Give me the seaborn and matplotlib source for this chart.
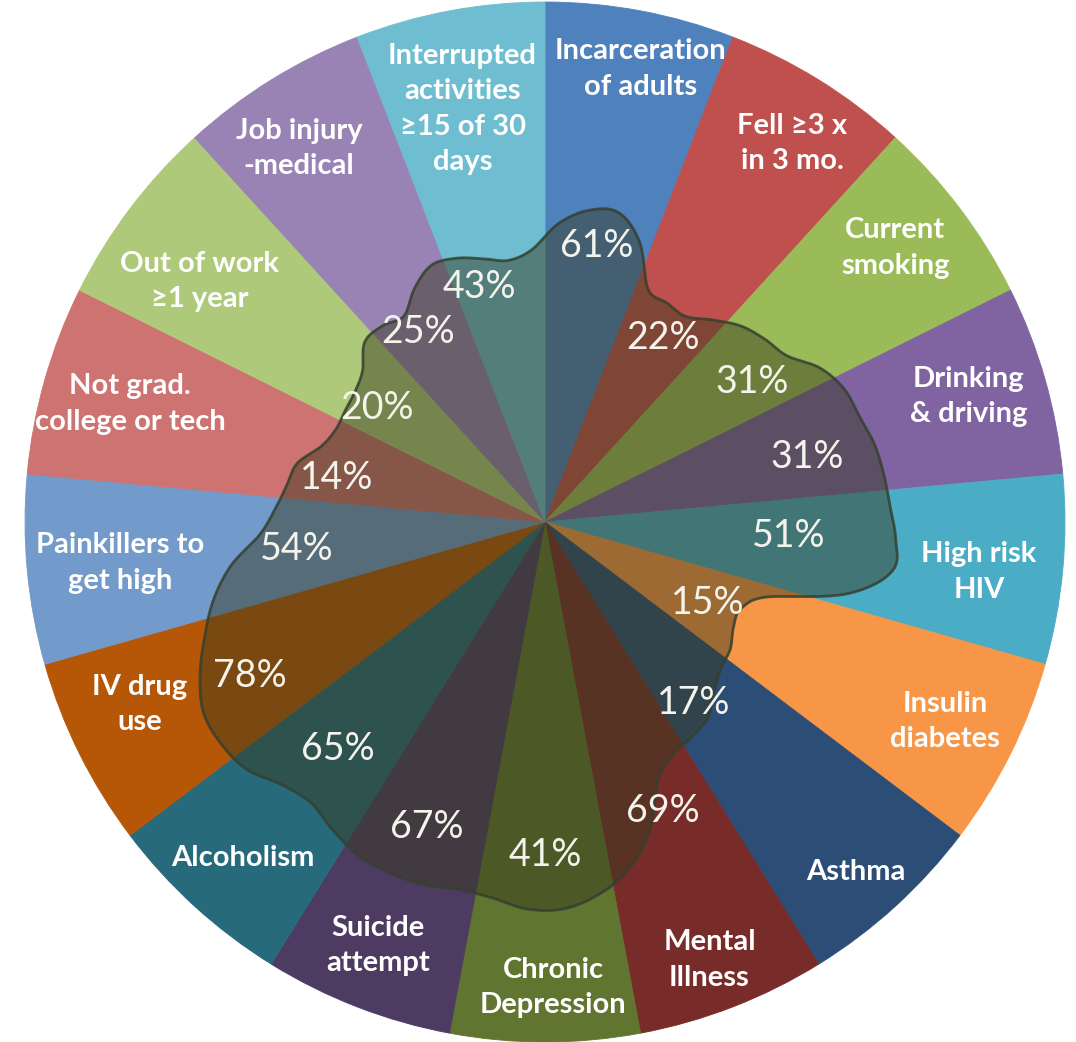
import numpy as np
import matplotlib
matplotlib.use("Agg")
import matplotlib.pyplot as plt
import seaborn as sns

# slices, clockwise from 12 o'clock
categories = ["Incarceration\nof adults", "Fell ≥3 x\nin 3 mo.", "Current\nsmoking",
              "Drinking\n& driving", "High risk\nHIV", "Insulin\ndiabetes", "Asthma",
              "Mental\nIllness", "Chronic\nDepression", "Suicide\nattempt", "Alcoholism",
              "IV drug\nuse", "Painkillers to\nget high", "Not grad.\ncollege or tech",
              "Out of work\n≥1 year", "Job injury\n-medical",
              "Interrupted\nactivities\n≥15 of 30\ndays"]
percent = [61, 22, 31, 31, 51, 15, 17, 69, 41, 67, 65, 78, 54, 14, 20, 25, 43]

# reach of the dark overlay inside each slice (fraction of the pie radius),
# read at 4 evenly spaced points across the slice, clockwise
blob_reach = [
    [0.575, 0.605, 0.612, 0.570],   # Incarceration
    [0.490, 0.482, 0.479, 0.505],   # Fell
    [0.533, 0.550, 0.565, 0.607],   # Smoking
    [0.630, 0.638, 0.651, 0.658],   # Drinking
    [0.664, 0.675, 0.675, 0.600],   # HIV
    [0.453, 0.412, 0.415, 0.432],   # Insulin
    [0.440, 0.460, 0.490, 0.500],   # Asthma
    [0.510, 0.540, 0.630, 0.690],   # Mental illness
    [0.725, 0.745, 0.745, 0.730],   # Chronic depression
    [0.726, 0.735, 0.738, 0.735],   # Suicide
    [0.720, 0.703, 0.715, 0.745],   # Alcoholism
    [0.755, 0.752, 0.725, 0.690],   # IV drug
    [0.655, 0.610, 0.550, 0.520],   # Painkillers
    [0.502, 0.490, 0.455, 0.440],   # Not grad
    [0.440, 0.443, 0.456, 0.490],   # Out of work
    [0.490, 0.480, 0.515, 0.540],   # Job injury
    [0.535, 0.520, 0.508, 0.525],   # Interrupted
]

slice_colors = ["#4F81BD", "#C0504D", "#9BBB59", "#8064A2", "#4BACC6", "#F79646",
                "#2C4D75", "#772C2A", "#5F7530", "#4D3B62", "#276A7C", "#B65708",
                "#729ACA", "#CD7371", "#AFC97A", "#9983B5", "#6FBDD1"]

# layout: where the texts sit (radius as fraction of pie, angle nudge in degrees)
label_r = [0.89, 0.87, 0.855, 0.85, 0.84, 0.86, 0.90, 0.90, 0.895, 0.875, 0.87, 0.855,
           0.82, 0.83, 0.81, 0.86, 0.81]
label_nudge = [1.3, 1.4, -1, -0.6, 1.3, 0, 0.7, 0.6, -1, 0.3, -0.4, 2.2, -0.2, 0, -2.2, -1.6, -0.7]
pct_r = [0.54, 0.42, 0.48, 0.52, 0.47, 0.35, 0.45, 0.60, 0.64, 0.63, 0.59, 0.64,
         0.48, 0.41, 0.39, 0.44, 0.47]
pct_nudge = [0, 1, 3, 2, -2, 0, 3, -1, 0, 0, 0, -1, -1, -4, -3, -2, -5]

sns.set_style("white")
plt.rcParams['font.family'] = ['Lato', 'DejaVu Sans']

fig = plt.figure(figsize=(10.76, 10.42), dpi=100)
ax = fig.add_axes([25 / 1076, 0, 1040 / 1076, 1040 / 1042])

n = len(categories)
pal = sns.color_palette(slice_colors)
wedges, _ = ax.pie(np.ones(n), colors=pal, startangle=90, counterclock=False,
                   radius=1, wedgeprops=dict(linewidth=0.6))
for w in wedges:
    w.set_edgecolor(w.get_facecolor())

# overlay shape: periodic catmull-rom through the reach samples
width = 360 / n
r = np.array(blob_reach).ravel()
m = len(r)
theta = (np.arange(m) + 0.5) * width / 4
steps = 12
rr, tt = [], []
for i in range(m):
    p0, p1, p2, p3 = r[i - 1], r[i], r[(i + 1) % m], r[(i + 2) % m]
    for t in np.linspace(0, 1, steps, endpoint=False):
        v = 0.5 * (2 * p1 + (-p0 + p2) * t + (2 * p0 - 5 * p1 + 4 * p2 - p3) * t ** 2
                   + (-p0 + 3 * p1 - 3 * p2 + p3) * t ** 3)
        rr.append(v)
        tt.append(theta[i] + t * width / 4)
rr = np.array(rr + rr[:1])
tt = np.radians(np.array(tt + tt[:1]))
bx, by = rr * np.sin(tt), rr * np.cos(tt)
ax.fill(bx, by, color="#37391c", alpha=0.47, lw=0, zorder=3)
ax.plot(bx, by, color="#35402f", lw=2, alpha=0.85, zorder=4)

mids = (np.arange(n) + 0.5) * width
for i in range(n):
    a = np.radians(mids[i] + label_nudge[i])
    ax.text(label_r[i] * np.sin(a), label_r[i] * np.cos(a), categories[i], ha="center",
            va="center", color="white", fontsize=21, fontweight="bold", linespacing=1.45,
            zorder=5)
    b = np.radians(mids[i] + pct_nudge[i])
    ax.text(pct_r[i] * np.sin(b), pct_r[i] * np.cos(b), f"{percent[i]}%", ha="center",
            va="center", color="#F4F4EC", fontsize=27, zorder=5)

ax.set_xlim(-1, 1)
ax.set_ylim(-1, 1)
ax.set_aspect("equal", adjustable="box")
ax.axis("off")
fig.savefig("out.png", dpi=100)
